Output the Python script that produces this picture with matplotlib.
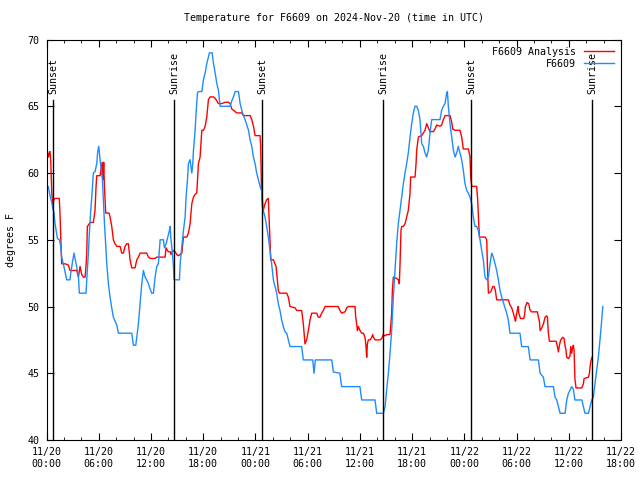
import matplotlib
matplotlib.use("Agg")
import matplotlib.pyplot as plt
import matplotlib.dates as mdates
import pandas as pd

start = pd.Timestamp("2024-11-20 00:00")
end = pd.Timestamp("2024-11-22 18:00")

# hours since 11/20 00:00 UTC, temperature in F
obs_hours = [0, 0.2, 0.4, 0.6, 0.7, 0.86, 0.98, 1.1, 1.25, 1.48, 1.63, 1.74, 1.93, 2.13, 2.32, 2.7,
             2.78, 3.0, 3.16, 3.31, 3.47, 3.66, 3.77, 4.54, 4.62, 4.81, 4.92, 5.08, 5.23, 5.38, 5.57,
             5.77, 5.88, 6.0, 6.15, 6.26, 6.42, 6.53, 6.65, 6.8, 6.92, 7.11, 7.3, 7.49, 7.68, 7.87,
             8.07, 8.26, 9.79, 9.98, 10.25, 10.37, 10.55, 10.75, 10.94, 11.13, 11.32, 11.51, 11.71,
             11.9, 12.09, 12.28, 12.47, 12.66, 12.85, 13.05, 13.24, 13.43, 13.54, 13.74, 13.93,
             14.12, 14.2, 14.27, 14.43, 14.58, 14.65, 15.27, 15.35, 15.54, 15.73, 15.92, 16.03,
             16.19, 16.3, 16.49, 16.69, 16.8, 16.88, 17.07, 17.18, 17.34, 17.45, 17.84, 18.03,
             18.22, 18.41, 18.6, 18.72, 19.03, 19.18, 19.37, 19.56, 19.75, 19.94, 21.09, 21.28,
             21.47, 21.67, 22.05, 22.24, 22.43, 22.62, 22.81, 23.2, 23.38, 23.58, 23.76, 23.96,
             24.14, 24.34, 24.53, 24.7, 24.8, 24.9, 25.1, 25.29, 25.48, 25.67, 25.86, 26.06, 26.25,
             26.44, 26.63, 26.82, 27.01, 27.2, 27.4, 27.59, 27.78, 27.97, 29.31, 29.5, 30.58, 30.73,
             30.88, 32.76, 32.95, 33.7, 33.9, 36.0, 36.2, 37.74, 37.93, 38.7, 38.89, 39.08, 39.27,
             39.46, 39.65, 39.84, 40.03, 40.22, 40.41, 40.61, 40.8, 40.99, 41.18, 41.37, 41.56,
             41.76, 41.95, 42.14, 42.33, 42.52, 42.71, 42.9, 43.1, 43.29, 43.48, 43.67, 43.86,
             44.05, 44.25, 45.2, 45.39, 45.59, 45.78, 45.97, 46.05, 46.16, 46.35, 46.54, 46.74,
             46.93, 47.12, 47.3, 47.5, 47.69, 47.88, 48.07, 48.27, 48.45, 48.65, 48.84, 49.03,
             49.22, 49.41, 49.6, 49.8, 49.99, 50.18, 50.37, 50.56, 50.76, 50.95, 51.14, 51.33,
             51.52, 51.71, 51.9, 52.1, 52.29, 52.86, 53.05, 53.24, 54.39, 54.58, 55.35, 55.55,
             56.5, 56.7, 57.08, 57.27, 58.23, 58.42, 58.61, 59.0, 59.57, 59.76, 59.95, 60.34,
             60.52, 60.7, 61.5, 61.67, 61.86, 62.25, 62.44, 62.63, 62.82, 63.0, 63.2, 63.39,
             63.58, 63.78, 63.9]
obs_temp = [59.0, 59.0, 58.3, 57.8, 57.4, 57.0, 56.2, 55.7, 55.1, 55.0, 54.5, 53.7, 53.2, 52.6, 52.0,
            52.0, 52.5, 53.4, 54.0, 53.5, 53.0, 52.3, 51.0, 51.0, 52.0, 54.0, 55.5, 57.2, 58.5, 60.0,
            60.1, 60.7, 61.6, 62.0, 61.0, 60.4, 59.5, 58.0, 56.3, 54.5, 53.2, 51.7, 50.7, 49.9, 49.2,
            48.9, 48.6, 48.0, 48.0, 47.1, 47.1, 47.7, 48.7, 50.2, 51.7, 52.7, 52.2, 52.0, 51.7, 51.3,
            51.0, 51.0, 52.2, 53.0, 53.2, 55.0, 55.0, 55.0, 54.4, 54.7, 55.2, 55.7, 56.0, 55.2, 54.2,
            53.0, 52.0, 52.0, 53.2, 54.5, 55.7, 56.7, 58.2, 59.5, 60.7, 61.0, 60.0, 60.7, 61.7, 63.2,
            64.5, 66.0, 66.1, 66.1, 67.0, 67.5, 68.2, 68.7, 69.0, 69.0, 68.2, 67.5, 66.7, 66.2, 65.0,
            65.0, 65.4, 65.7, 66.1, 66.1, 65.2, 64.7, 64.3, 64.0, 63.2, 62.5, 62.0, 61.2, 60.7, 60.0,
            59.5, 59.0, 58.7, 58.0, 57.2, 56.7, 56.0, 55.2, 54.2, 53.2, 52.0, 51.5, 51.0, 50.2, 49.7,
            49.0, 48.5, 48.1, 48.0, 47.5, 47.0, 47.0, 46.0, 46.0, 45.0, 46.0, 46.0, 45.1, 45.0, 44.0,
            44.0, 43.0, 43.0, 42.0, 42.0, 42.5, 43.8, 45.0, 46.5, 48.2, 50.7, 52.7, 54.7, 56.2, 57.2,
            58.2, 59.2, 60.0, 60.7, 61.5, 62.7, 63.7, 64.5, 65.0, 65.0, 64.7, 64.0, 62.2, 62.0, 61.5,
            61.2, 61.7, 63.0, 64.0, 64.0, 64.7, 65.0, 65.2, 66.0, 66.1, 65.0, 63.7, 62.7, 61.7, 61.2,
            61.5, 62.0, 61.5, 61.0, 60.2, 59.2, 58.7, 58.5, 58.2, 57.7, 56.7, 56.0, 56.0, 55.7, 55.0,
            54.2, 53.5, 52.2, 52.0, 52.2, 53.2, 54.0, 53.7, 53.2, 52.7, 52.0, 51.2, 50.7, 49.5, 49.0,
            48.0, 48.0, 47.0, 47.0, 46.0, 46.0, 45.0, 44.7, 44.0, 44.0, 43.2, 43.0, 42.0, 42.0, 43.0,
            43.5, 44.0, 43.8, 43.0, 43.0, 42.5, 42.0, 42.0, 42.5, 43.0, 43.2, 44.2, 45.2, 46.2, 47.5,
            49.0, 50.0]

ana_hours = [0, 0.12, 0.23, 0.33, 0.4, 0.48, 0.6, 0.71, 0.86, 0.98, 1.47, 1.55, 1.67, 1.74, 2.13,
             2.51, 2.7, 3.47, 3.66, 3.85, 4.04, 4.23, 4.43, 4.54, 4.62, 4.69, 4.81, 5.0, 5.38, 5.57,
             5.69, 5.77, 6.15, 6.26, 6.34, 6.42, 6.49, 6.57, 6.65, 6.72, 6.8, 7.18, 7.3, 7.49, 7.68,
             7.87, 8.07, 8.45, 8.64, 8.83, 9.02, 9.21, 9.4, 9.6, 9.79, 10.17, 10.37, 10.56, 10.75,
             11.51, 11.71, 11.9, 12.47, 12.66, 13.43, 13.62, 13.73, 13.89, 14.0, 14.2, 14.31, 14.5,
             14.77, 14.96, 15.15, 15.35, 15.54, 15.73, 16.11, 16.3, 16.49, 16.69, 16.88, 17.07,
             17.26, 17.45, 17.64, 17.84, 18.03, 18.22, 18.41, 18.6, 18.79, 19.18, 19.37, 19.75,
             20.13, 20.52, 20.9, 21.09, 21.28, 21.47, 21.67, 21.86, 22.43, 22.62, 23.39, 23.58,
             23.77, 23.96, 24.53, 24.6, 24.68, 24.8, 24.9, 25.1, 25.29, 25.48, 25.56, 25.67, 25.75,
             26.06, 26.25, 26.37, 26.44, 26.52, 26.63, 26.75, 27.59, 27.78, 27.97, 28.55, 28.74,
             29.31, 29.5, 29.69, 29.88, 30.08, 30.27, 30.46, 30.65, 30.84, 31.03, 31.22, 31.41,
             31.6, 31.8, 31.99, 32.18, 32.95, 33.5, 33.71, 33.9, 34.29, 34.48, 34.67, 35.44, 35.52,
             35.63, 35.71, 35.82, 36.01, 36.2, 36.39, 36.59, 36.7, 36.78, 36.86, 36.97, 37.16,
             37.36, 37.47, 37.55, 37.74, 38.12, 38.31, 38.5, 38.69, 38.89, 39.08, 39.46, 39.53,
             39.65, 39.73, 39.84, 40.22, 40.41, 40.53, 40.61, 40.72, 40.8, 40.99, 41.18, 41.56,
             41.76, 41.83, 42.33, 42.45, 42.52, 42.72, 43.1, 43.48, 43.67, 43.79, 44.05, 44.44,
             44.63, 44.82, 45.2, 45.39, 45.59, 45.78, 46.36, 46.55, 46.66, 46.93, 47.5, 47.69,
             47.88, 48.46, 48.65, 48.73, 48.84, 49.41, 49.53, 49.65, 49.73, 50.38, 50.57, 50.64,
             50.76, 51.03, 51.26, 51.41, 51.56, 51.71, 53.05, 53.24, 53.44, 53.63, 53.82, 53.88,
             53.96, 54.07, 54.18, 54.25, 54.45, 54.83, 54.94, 55.01, 55.2, 55.4, 55.51, 55.7, 56.2,
             56.39, 56.5, 56.62, 56.7, 56.89, 57.08, 57.27, 57.46, 57.54, 57.65, 57.77, 58.23,
             58.54, 58.69, 58.8, 58.92, 59.07, 59.3, 59.45, 59.56, 59.68, 59.75, 59.95, 60.14,
             60.22, 60.33, 60.45, 60.52, 60.6, 60.71, 60.83, 61.48, 61.67, 61.75, 62.25, 62.37,
             62.44, 62.56, 62.67]
ana_temp = [61.2, 61.5, 61.2, 61.6, 61.6, 61.0, 58.5, 57.7, 58.0, 58.1, 58.1, 56.9, 54.5, 53.2, 53.2,
            53.1, 52.7, 52.7, 52.2, 53.0, 52.4, 52.2, 52.2, 53.1, 54.0, 56.0, 56.1, 56.3, 56.3, 57.2,
            59.0, 59.8, 59.8, 60.3, 60.5, 60.8, 59.5, 60.8, 59.0, 58.0, 57.0, 57.0, 56.7, 56.0, 55.0,
            54.7, 54.5, 54.5, 54.0, 54.0, 54.5, 54.7, 54.7, 53.5, 52.9, 52.9, 53.5, 53.7, 54.0, 54.0,
            53.7, 53.6, 53.6, 53.7, 53.7, 53.7, 54.4, 54.2, 54.1, 54.1, 53.9, 54.2, 54.1, 53.9, 53.8,
            53.9, 54.0, 55.2, 55.2, 55.5, 56.2, 57.7, 58.2, 58.4, 58.5, 60.7, 61.2, 63.2, 63.2, 63.5,
            64.2, 65.5, 65.7, 65.7, 65.6, 65.2, 65.2, 65.3, 65.3, 65.2, 64.8, 64.7, 64.6, 64.5, 64.5,
            64.3, 64.3, 64.0, 63.5, 62.8, 62.8, 62.0, 59.2, 57.5, 57.2, 57.7, 58.0, 58.1, 56.7, 55.0,
            53.5, 53.5, 53.2, 53.0, 52.5, 52.0, 51.2, 51.0, 51.0, 50.7, 50.0, 49.9, 49.7, 49.7, 48.7,
            47.2, 47.5, 48.2, 49.0, 49.5, 49.5, 49.5, 49.5, 49.2, 49.2, 49.5, 49.7, 50.0, 50.0, 50.0,
            50.0, 49.7, 49.5, 49.6, 49.9, 50.0, 50.0, 49.2, 48.7, 48.2, 48.5, 48.2, 48.0, 48.0, 47.7,
            47.0, 46.2, 47.2, 47.5, 47.5, 47.7, 47.9, 47.7, 47.5, 47.5, 47.5, 47.6, 47.9, 47.8, 47.9,
            47.9, 48.5, 49.5, 51.2, 52.2, 52.1, 52.0, 51.7, 53.2, 55.7, 56.0, 56.0, 56.2, 57.2, 58.5,
            59.7, 59.7, 60.7, 61.7, 62.7, 62.8, 63.2, 63.7, 63.5, 63.1, 63.1, 63.3, 63.6, 63.5, 63.6,
            64.0, 64.3, 64.3, 63.8, 63.3, 63.2, 63.2, 62.7, 61.8, 61.8, 61.2, 59.7, 59.0, 59.0, 58.0,
            56.2, 55.2, 55.2, 55.0, 53.2, 51.0, 51.1, 51.5, 51.5, 51.2, 50.5, 50.5, 50.1, 49.9, 49.5,
            49.0, 48.9, 49.3, 49.7, 50.0, 49.5, 49.1, 49.1, 49.5, 50.0, 50.3, 50.2, 49.8, 49.6, 49.6,
            49.6, 49.2, 48.9, 48.2, 48.4, 48.7, 49.2, 49.3, 49.2, 48.0, 47.4, 47.4, 47.4, 47.0, 46.6,
            47.1, 47.5, 47.7, 47.6, 47.1, 46.7, 46.2, 46.1, 46.3, 47.0, 46.5, 47.0, 47.1, 46.7, 44.5,
            43.9, 43.9, 44.2, 44.6, 44.7, 45.0, 45.5, 46.0, 46.2]

sun_names = ["Sunset", "Sunrise", "Sunset", "Sunrise", "Sunset", "Sunrise"]
sun_hours = [0.78, 14.68, 24.79, 38.69, 48.80, 62.70]

plt.rcParams['font.family'] = ['DejaVu Sans Mono']
plt.rcParams['font.size'] = 7.2

obs_t = start + pd.to_timedelta(obs_hours, unit='h')
ana_t = start + pd.to_timedelta(ana_hours, unit='h')
sun_t = start + pd.to_timedelta(sun_hours, unit='h')

fig = plt.figure(figsize=(6.4, 4.8), dpi=100)
ax = fig.add_axes([0.0727, 0.0833, 0.8977, 0.8344])

ax.plot(ana_t, ana_temp, color='#ff0000', lw=1.0, label='F6609 Analysis')
ax.plot(obs_t, obs_temp, color='#1e8cff', lw=1.0, label='F6609')

for name, t in zip(sun_names, sun_t):
    ax.axvline(t, ymin=0, ymax=0.85, color='black', lw=1.0)
    ax.text(t, 0.865, name, transform=ax.get_xaxis_transform(), rotation=90,
            ha='center', va='bottom')

ax.set_xlim(start, end)
ax.set_ylim(40, 70)
ax.set_yticks(range(40, 71, 5))
ax.xaxis.set_major_locator(mdates.HourLocator(byhour=[0, 6, 12, 18]))
ax.xaxis.set_minor_locator(mdates.HourLocator(byhour=range(0, 24, 2)))
ax.xaxis.set_major_formatter(mdates.DateFormatter('%m/%d\n%H:%M'))
ax.tick_params(which='both', direction='in', top=True, right=True, labelsize=7.2)
ax.tick_params(which='major', length=5, pad=5)
ax.tick_params(which='minor', length=2.5)
for s in ax.spines.values():
    s.set_linewidth(0.8)

ax.set_ylabel('degrees F', labelpad=8)
ax.set_title('Temperature for F6609 on 2024-Nov-20 (time in UTC)', fontsize=7.2, pad=13)
ax.legend(loc='upper right', frameon=False, markerfirst=False, handlelength=3.0,
          handletextpad=0.8, labelspacing=0.2, borderaxespad=0.3, fontsize=7.2)

fig.savefig('out.png', dpi=100)
